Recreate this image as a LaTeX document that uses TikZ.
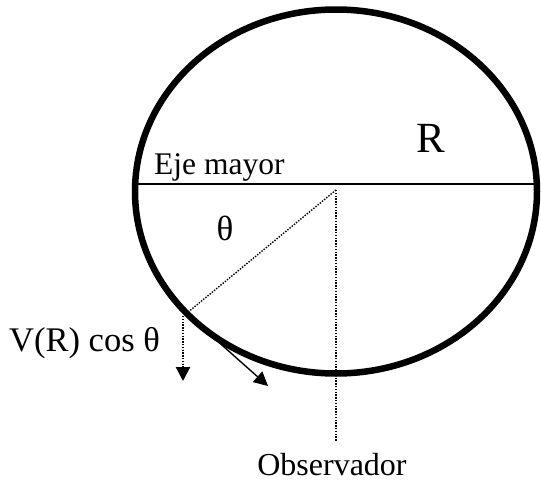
\documentclass[tikz,border=0pt]{standalone}
\usepackage{fontspec}
\setmainfont{Liberation Serif}
\usetikzlibrary{arrows.meta}
\begin{document}
\begin{tikzpicture}[x=1pt,y=-1pt,
  lbl/.style={inner sep=0pt,anchor=base},
  dotline/.style={dash pattern=on 1.4pt off 1.4pt},
  tri/.style={-{Triangle[length=14pt,width=14pt]}}]
\useasboundingbox (0,0) rectangle (541,482);
\coordinate (C) at (336,191.5);
\coordinate (O) at (336,190);
\coordinate (AL) at (135,184);
\coordinate (AR) at (537,184);
\coordinate (P) at (187,313);
\coordinate (Vs) at (183,316);
\coordinate (Ve) at (183,381);
\coordinate (Ts) at (205,330);
\coordinate (Te) at (268,386);
\coordinate (Ob) at (336,441);
% ellipse
\draw[line width=6.5pt] (C) ellipse [x radius=201, y radius=182];
% major axis
\draw[line width=1.5pt] (AL) -- (AR);
% dotted lines
\draw[dotline,line width=1.4pt] (O) -- (P);
\draw[dotline,line width=2.6pt] (O) -- (Ob);
\draw[dotline,line width=2.4pt,tri] (Vs) -- (Ve);
\draw[line width=1.4pt,tri] (Ts) -- (Te);
% labels
\node[lbl,font=\fontsize{31.5}{36}\selectfont,anchor=base west] (eje) at (154,174) {Eje mayor};
\node[lbl,font=\fontsize{43}{50}\selectfont] (R) at (431,152) {R};
\node[lbl,font=\fontsize{35}{40}\selectfont] (th) at (225,240) {θ};
\node[lbl,font=\fontsize{34.5}{40}\selectfont,anchor=base west] (v) at (9,351) {V(R) cos θ};
\node[lbl,font=\fontsize{32}{38}\selectfont] (obs) at (332,475) {Observador};
\end{tikzpicture}
\end{document}
